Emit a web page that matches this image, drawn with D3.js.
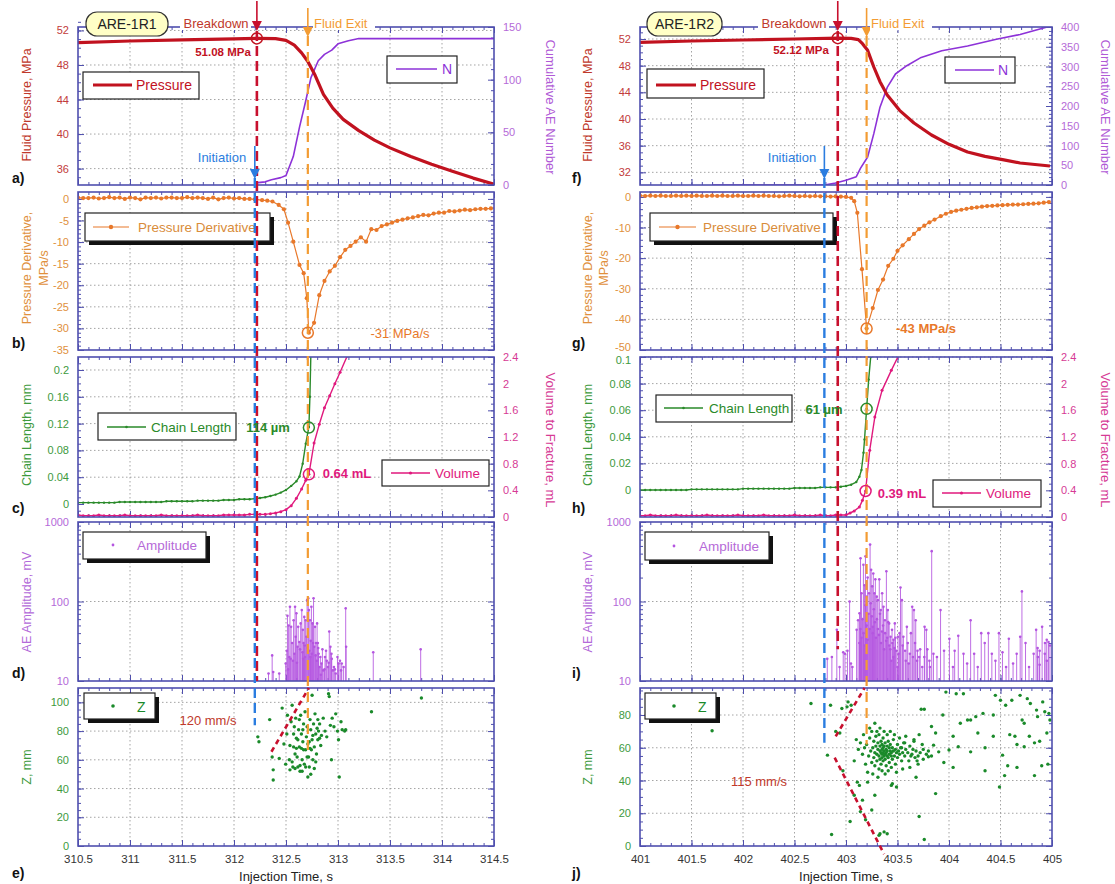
<!DOCTYPE html>
<html lang="en">
<head>
<meta charset="UTF-8">
<title>ARE-1R1 / ARE-1R2 breakdown records</title>
<script src="https://d3js.org/d3.v7.min.js"></script>
<style>
  body { margin: 0; background: #fff; }
</style>
</head>
<body>
<script>
// ---------------- data ----------------
const xTicksR1 = [310.5, 311, 311.5, 312, 312.5, 313, 313.5, 314, 314.5];
const xTicksR2 = [401, 401.5, 402, 402.5, 403, 403.5, 404, 404.5, 405];

// event times, s
const tInitR1 = 312.2, tBreakR1 = 312.22, tExitR1 = 312.71;
const tInitR2 = 402.79, tBreakR2 = 402.92, tExitR2 = 403.2;

// fluid pressure, MPa
const pressR1 = [[310.5,50.6],[311,50.78],[311.5,50.92],[312,51.03],[312.22,51.08],[312.4,51.05],[312.5,50.85],
  [312.58,50.3],[312.65,49.4],[312.71,48.4],[312.78,46.8],[312.86,44.6],[312.95,43.0],[313.05,41.7],[313.2,40.4],
  [313.35,39.3],[313.5,38.4],[313.7,37.4],[313.9,36.5],[314.1,35.7],[314.3,34.9],[314.5,34.2]];
const pressR2 = [[401,51.5],[401.5,51.7],[402,51.85],[402.5,52.0],[402.92,52.12],[403.05,52.1],[403.12,51.9],
  [403.16,51.3],[403.21,50.3],[403.27,47.8],[403.33,45.6],[403.4,43.6],[403.52,41.3],[403.66,39.4],[403.83,37.6],
  [404.0,36.2],[404.18,35.05],[404.35,34.4],[404.52,33.9],[404.69,33.4],[404.98,32.95]];

// cumulative AE number
const nR1 = [[312.2,0],[312.21,2],[312.3,3],[312.36,5],[312.45,7],[312.5,9],[312.57,27],[312.63,55],[312.69,80],
  [312.74,102],[312.81,118],[312.87,124],[312.94,128],[313.0,134],[313.1,137],[313.2,139],[314.5,139]];
const nR2 = [[401.7,0],[402.79,0],[402.9,5],[403.0,12],[403.1,21],[403.14,42],[403.21,71],[403.27,130],[403.33,197],
  [403.4,247],[403.48,281],[403.59,302],[403.73,323],[403.93,340],[404.18,352],[404.46,369],[404.69,381],[404.98,402]];

// pressure derivative, MPa/s (flat part sampled every 0.05 s)
const derivBaseR1 = [0.3,0.2,0.2,0.3,0.1,0.2,0.4,0.2,0.3,0.0,0.3,0.2,-0.1,0.3,0.2,0.3,0.1,0.3,0.3,0.2,
  0.2,0.4,0.2,0.3,0.2,0.0,0.3,-0.1,0.2,0.3,0.1,0.2,0.0,0.0,-0.1];
const derivTailR1 = [[312.27,-0.3],[312.32,-0.4],[312.37,-0.6],[312.43,-1.4],[312.48,-2.4],[312.52,-5.5],[312.57,-9.9],
  [312.63,-15.3],[312.67,-17.2],[312.70,-23],[312.72,-31],[312.77,-28.7],[312.82,-22.3],[312.87,-19.0],[312.92,-16.8],
  [312.97,-15.5],[313.02,-13.5],[313.07,-11.8],[313.12,-10.9],[313.17,-9.9],[313.22,-8.9],[313.27,-9.9],[313.32,-7.0],
  [313.37,-7.2],[313.42,-6.3],[313.47,-5.9],[313.52,-5.5],[313.57,-5.1],[313.62,-4.8],[313.67,-4.5],[313.72,-4.3],
  [313.77,-4.0],[313.82,-3.7],[313.87,-3.8],[313.92,-3.4],[313.97,-3.2],[314.02,-3.2],[314.07,-2.8],[314.12,-2.9],
  [314.17,-2.7],[314.22,-2.5],[314.27,-2.6],[314.32,-2.4],[314.37,-2.3],[314.42,-2.3],[314.47,-2.2]];
const derivBaseR2 = [0.4,0.3,0.4,0.3,0.4,0.3,0.3,0.4,0.3,0.4,0.3,0.4,0.3,0.3,0.4,0.3,0.4,0.3,0.3,0.4,
  0.3,0.3,0.4,0.3,0.4,0.3,0.3,0.2,0.3,0.4,0.3,0.2,0.3,0.2,0.3,0.2,0.2,0.1,0.2,0.1,0.0];
const derivTailR2 = [[403.05,-0.3],[403.08,-1.4],[403.11,-5.2],[403.155,-23.6],[403.2,-43],[403.26,-36.3],[403.31,-30.4],
  [403.36,-27],[403.41,-22.5],[403.46,-20.2],[403.5,-17.6],[403.55,-15.8],[403.61,-13.8],[403.66,-12.1],[403.71,-10.5],
  [403.76,-9.4],[403.81,-8.3],[403.86,-7.4],[403.92,-6.3],[403.97,-5.5],[404.02,-4.9],[404.07,-4.5],[404.12,-4.2],
  [404.17,-3.9],[404.22,-3.6],[404.27,-3.4],[404.32,-3.2],[404.37,-3.0],[404.42,-2.9],[404.47,-2.8],[404.52,-2.7],
  [404.57,-2.6],[404.62,-2.5],[404.67,-2.5],[404.72,-2.4],[404.77,-2.3],[404.82,-2.2],[404.87,-2.1],[404.92,-1.9],[404.97,-1.7]];

// chain length, mm
const chainBaseR1 = [0.002,0.002,0.002,0.002,0.002,0.002,0.002,0.002,0.003,0.003,0.003,0.003,0.003,0.003,0.003,0.003,
  0.003,0.004,0.004,0.004,0.004,0.004,0.004,0.005,0.005,0.005,0.005,0.005,0.006,0.006,0.006,0.007,0.007,0.007,0.008];
const chainTailR1 = [[312.25,0.009],[312.3,0.010],[312.35,0.012],[312.4,0.014],[312.45,0.017],[312.5,0.021],[312.55,0.027],
  [312.6,0.034],[312.63,0.041],[312.66,0.06],[312.69,0.09],[312.72,0.115],[312.73,0.16],[312.74,0.23]];
const chainBaseR2 = [0,0,0,0,0,0,0,0,0,0,0.0005,0.0005,0.0005,0.0005,0.0005,0.0005,0.0005,0.0005,0.0005,0.0005,
  0.001,0.001,0.001,0.001,0.001,0.001,0.001,0.001,0.001,0.001,0.0015,0.0015,0.0015,0.0015,0.0015,0.002,0.002,0.002,0.002,0.0025,0.003];
const chainTailR2 = [[403.05,0.004],[403.1,0.006],[403.13,0.01],[403.15,0.015],[403.17,0.028],[403.18,0.038],[403.2,0.061],
  [403.22,0.083],[403.24,0.1],[403.25,0.11]];

// volume to fracture, mL
const volBaseR1 = [0.03,0.02,0.02,0.02,0.03,0.02,0.02,0.02,0.02,0.03,0.02,0.02,0.02,0.02,0.02,0.02,0.03,0.02,0.02,0.02,
  0.02,0.02,0.02,0.03,0.02,0.02,0.02,0.02,0.03,0.03,0.03,0.03,0.03,0.04,0.04];
const volTailR1 = [[312.25,0.04],[312.3,0.04],[312.35,0.05],[312.4,0.06],[312.45,0.08],[312.5,0.11],[312.55,0.17],[312.6,0.28],
  [312.65,0.42],[312.69,0.55],[312.72,0.64],[312.77,1.11],[312.82,1.39],[312.87,1.64],[312.92,1.82],[312.97,2.0],[313.02,2.17],[313.09,2.42]];
const volBaseR2 = [0.02,0.02,0.03,0.02,0.02,0.02,0.02,0.03,0.02,0.02,0.02,0.02,0.02,0.03,0.02,0.02,0.02,0.02,0.02,0.03,
  0.02,0.02,0.02,0.02,0.03,0.02,0.02,0.02,0.02,0.02,0.03,0.02,0.02,0.02,0.02,0.03,0.02,0.02,0.03,0.03,0.03];
const volTailR2 = [[403.04,0.06],[403.08,0.09],[403.13,0.15],[403.16,0.25],[403.19,0.39],[403.23,1.0],[403.28,1.5],
  [403.35,1.9],[403.44,2.2],[403.51,2.42]];

// AE amplitude, mV
const ampR1 = [[312.332,12.4],[312.367,21],[312.377,13],[312.435,12.4],[312.497,16.6],[312.508,24],[312.514,66],[312.52,14],
  [312.525,50],[312.532,20],[312.538,86],[312.545,19],[312.549,48],[312.559,30],[312.566,18],[312.573,58],[312.58,22],
  [312.587,86],[312.593,36],[312.600,71],[312.605,17],[312.611,27],[312.617,48],[312.628,31],[312.635,25],[312.641,53],
  [312.652,78],[312.659,23],[312.662,44],[312.665,19],[312.669,30],[312.676,64],[312.68,28],[312.683,20],[312.689,58],
  [312.696,36],[312.703,104],[312.71,26],[312.714,110],[312.720,78],[312.724,24],[312.731,58],[312.735,20],[312.738,32],
  [312.744,86],[312.748,22],[312.755,53],[312.76,30],[312.765,110],[312.772,27],[312.779,48],[312.785,21],[312.789,30],
  [312.796,18],[312.799,53],[312.806,30],[312.81,26],[312.813,22],[312.823,15],[312.83,20],[312.835,12],[312.841,16.6],
  [312.85,25],[312.858,13.6],[312.87,14],[312.875,20],[312.885,24],[312.892,18],[312.903,15],[312.91,17],[312.916,42],
  [312.927,27],[312.937,22],[312.94,19],[312.951,13.6],[312.961,15],[312.97,14],[312.978,12.4],[312.995,20],[313.005,16.6],
  [313.019,18],[313.029,13.6],[313.036,16.6],[313.054,15],[313.074,82],[313.078,27],[313.339,23],[313.795,25]];
const ampR2 = [[402.818,19],[402.863,20],[402.911,44],[402.938,15],[402.973,23],[402.990,22],[403.014,24],[403.035,100],
  [403.048,16.6],[403.062,15],[403.103,44],[403.117,58],[403.13,30],[403.131,71],[403.14,45],[403.141,350],[403.15,35],
  [403.151,127],[403.16,60],[403.169,290],[403.17,40],[403.179,160],[403.18,28],[403.189,370],[403.19,90],[403.200,115],
  [403.20,50],[403.210,200],[403.21,33],[403.22,70],[403.224,127],[403.23,45],[403.234,520],[403.24,95],[403.244,250],
  [403.25,65],[403.254,155],[403.26,40],[403.26,48],[403.265,225],[403.27,80],[403.275,127],[403.28,55],[403.285,190],
  [403.29,35],[403.299,115],[403.30,60],[403.309,104],[403.31,45],[403.32,38],[403.323,190],[403.33,70],[403.337,78],
  [403.34,30],[403.35,42],[403.351,127],[403.36,50],[403.364,86],[403.37,25],[403.378,58],[403.38,40],[403.39,32],
  [403.392,240],[403.40,35],[403.406,78],[403.41,55],[403.419,53],[403.42,28],[403.43,25],[403.433,36],[403.44,18],
  [403.447,44],[403.45,30],[403.46,20],[403.461,33],[403.47,26],[403.474,53],[403.48,35],[403.488,24],[403.50,15],
  [403.505,36],[403.51,22],[403.52,40],[403.529,150],[403.543,104],[403.55,28],[403.557,36],[403.574,24],[403.58,18],
  [403.591,48],[403.60,30],[403.609,16.6],[403.62,22],[403.63,40],[403.643,86],[403.65,20],[403.660,78],[403.67,30],
  [403.677,58],[403.69,18],[403.694,24],[403.711,20],[403.72,25],[403.74,15],[403.76,20],[403.763,48],[403.780,44],
  [403.79,25],[403.81,18],[403.815,15],[403.832,430],[403.849,22],[403.883,20],[403.918,78],[403.952,24],[404.004,34],
  [404.038,15],[404.055,24],[404.090,37],[404.141,22],[404.176,16.6],[404.210,58],[404.244,22],[404.279,15],[404.313,40],
  [404.347,30],[404.382,40],[404.416,22],[404.451,18],[404.485,40],[404.519,23],[404.554,15],[404.581,34],[404.622,16.6],
  [404.657,22],[404.691,36],[404.708,134],[404.743,30],[404.777,15],[404.822,22],[404.846,44],[404.86,26],[404.863,20],
  [404.88,16],[404.880,24],[404.904,48],[404.93,22],[404.932,30],[404.949,33],[404.95,18],[404.966,31],[404.98,28]];

// AE source height Z, mm
const zR1 = [[312.229,76],[312.240,72.6],[312.343,88],[312.367,62],[312.377,53],[312.377,46],[312.435,61],[312.463,96],
  [312.480,71],[312.497,57],[312.508,78],[312.514,91],[312.532,60],[312.538,53],[312.538,70],[312.549,86.5],[312.559,98],
  [312.559,58.6],[312.566,55],[312.573,69],[312.573,78],[312.580,83],[312.587,54],[312.587,64],[312.593,89],[312.600,75],
  [312.600,68],[312.607,62],[312.614,55],[312.614,74],[312.621,81],[312.628,69],[312.628,88],[312.635,56],[312.635,52],
  [312.641,91],[312.648,78],[312.648,68],[312.655,60],[312.655,52],[312.662,72.6],[312.662,81],[312.669,85],[312.669,67],
  [312.676,57],[312.683,93.5],[312.689,67],[312.689,55],[312.696,76],[312.703,83],[312.703,62],[312.710,48],[312.710,71],
  [312.717,62],[312.724,72.6],[312.724,55],[312.731,88],[312.731,68],[312.738,81],[312.738,50],[312.744,67],[312.751,105],
  [312.751,74],[312.758,77],[312.758,60],[312.765,85],[312.772,69],[312.772,54],[312.779,92],[312.786,78],[312.786,58.6],
  [312.793,64],[312.799,82],[312.806,74],[312.806,88],[312.813,80],[312.823,85],[312.823,75],[312.834,70],[312.841,77],
  [312.858,89],[312.875,80],[312.892,76],[312.909,106],[312.916,104],[312.927,84],[312.937,60],[312.944,89],[312.961,83],
  [312.978,92],[312.995,80],[313.005,74],[313.012,48],[313.029,86.5],[313.040,81],[313.064,80],[313.074,81],[313.322,93.5],[313.802,103]];
const zR2 = [[401.70,70.4],[402.66,87],[402.85,86],[402.82,55.5],[402.86,7],[402.90,70],[402.94,69],[402.96,84],[402.97,46],
  [403.01,85],[403.02,88],[403.04,15],[403.05,86],[403.08,31],[403.11,39],[403.13,37],[403.14,21],[403.16,28],[403.17,68],
  [403.19,16],[403.21,39],[403.25,22],[403.28,31],[403.32,6.5],[403.33,7.5],[403.37,8.6],[403.40,7.5],[403.44,37],[403.45,38],
  [403.49,36],[403.68,42],[403.71,18],[403.76,4],[403.87,32],[403.71,68],[403.73,83.5],[403.76,83.5],[403.83,73],[403.87,69],
  [403.94,80],[403.97,94],[404.00,58.6],[404.04,67],[404.07,93],[404.11,75],[404.14,93],[404.18,77],[404.21,77],[404.26,79],
  [404.33,81],[404.35,60],[404.43,80],[404.45,92],[404.49,36],[404.50,89],[404.55,86],[404.57,49],[404.59,68],[404.61,89],
  [404.64,67],[404.66,62],[404.69,92],[404.71,77],[404.73,75],[404.76,90],[404.78,67],[404.79,87],[404.83,63],[404.85,83],
  [404.86,79],[404.88,64],[404.90,49],[404.91,88],[404.93,82],[404.95,69],[404.97,81],[404.98,77],
  [403.54,60],[403.57,63],[403.63,55],[403.66,65],[403.69,52],[403.75,59],[403.80,54.5],[403.85,61.6],[403.90,57.5],[403.95,51],
  [404.04,48],[404.09,60.6],[404.21,57.5],[404.28,69],[404.35,46],[404.43,67],[404.52,55.5],[404.54,43],[404.66,48],[404.73,60.6],
  [404.83,43],[404.96,50],
  [403.20,62],[403.22,55],[403.23,66],[403.24,58],[403.25,51],[403.25,70],[403.26,60],[403.27,54],[403.27,64],[403.28,57],
  [403.28,49],[403.29,61],[403.29,67],[403.30,56],[403.30,52],[403.31,59],[403.31,63],[403.32,55],[403.32,47],[403.32,68],
  [403.33,58],[403.33,61],[403.33,53],[403.34,57],[403.34,64],[403.34,50],[403.35,56],[403.35,59],[403.35,62],[403.35,54],
  [403.36,57],[403.36,60],[403.36,52],[403.36,66],[403.37,55],[403.37,58],[403.37,61],[403.38,56],[403.38,53],[403.38,63],
  [403.39,57],[403.39,59],[403.39,49],[403.40,55],[403.40,61],[403.40,58],[403.41,54],[403.41,64],[403.42,56],[403.42,60],
  [403.42,51],[403.43,58],[403.43,62],[403.44,55],[403.44,57],[403.45,53],[403.45,60],[403.46,58],[403.46,65],[403.47,55],
  [403.48,59],[403.48,50],[403.49,57],[403.50,62],[403.50,54],[403.51,58],[403.52,56],[403.53,60],[403.54,52],[403.55,57],
  [403.56,63],[403.57,55],[403.58,59],[403.60,57],[403.61,52],[403.62,61],[403.64,56],[403.65,59],[403.67,54],[403.68,58],
  [403.70,55],[403.72,57],[403.75,53],[403.78,56],[403.80,58],[403.83,55],
  [403.18,60],[403.19,50],[403.21,45],[403.23,72],[403.26,44],[403.28,75],[403.30,70],[403.31,42],[403.33,72],[403.35,46],
  [403.37,70],[403.38,44],[403.40,68],[403.41,46],[403.43,70],[403.44,48],[403.47,68],[403.49,45],[403.52,66],[403.55,47],
  [403.58,67],[403.62,48],[403.66,64],[403.70,50],[403.74,62],[403.14,63],[403.16,56],[403.12,59],[403.10,65],[403.08,52]];

// propagation fronts drawn on the Z panels ([t, z] end points)
const frontR1 = [[312.36,65.6],[312.72,110]];
const frontR2up = [[402.9,67],[403.18,97]];
const frontR2down = [[402.89,54],[403.37,-5]];

// where the vertical event lines stop (values on the lower panels' scales)
const redEndAmpR1 = 10, redEndAmpR2 = 25;
const blueEndZR1 = 84, blueEndZR2 = 63;
const exitEndZR1 = 63, exitEndZR2 = 62;

// ---------------- layout ----------------
const FONT = '"Liberation Sans", Arial, Helvetica, sans-serif';
const FRAME = "#4f4fae";
const C_PRESS = "#c1121f", C_N = "#8d32d8", C_DER = "#e8782a", C_CHAIN = "#2a8a2a",
      C_VOL = "#e0197d", C_AMP = "#b455e0", C_Z = "#1a8a2a";
const C_RED = "#c8102e", C_BLUE = "#2b7de0", C_ORANGE = "#f39c33";

const svg = d3.select("body").append("svg").attr("width", 1115).attr("height", 884)
  .style("font-family", FONT).style("background", "#fff");
const defs = svg.append("defs");

const rows = { a: [27, 185], b: [192, 350], c: [357, 517], d: [522, 681], e: [688, 846] };
const cols = [
  { x0: 78, x1: 494, dom: [310.5, 314.5], ticks: xTicksR1 },
  { x0: 640, x1: 1052, dom: [401, 405], ticks: xTicksR2 }
];
cols.forEach(c => c.x = d3.scaleLinear().domain(c.dom).range([c.x0, c.x1]));

function axis(g, ax, tx, ty, color, size) {
  const a = g.append("g").attr("transform", `translate(${tx},${ty})`).call(ax);
  a.select(".domain").remove();
  a.selectAll(".tick line").attr("stroke", FRAME).attr("stroke-width", 1);
  a.selectAll(".tick text").attr("fill", color || "#333")
    .style("font-size", size || "11px").style("font-family", FONT);
  return a;
}

let clipN = 0;
function panel(c, row, yDom, o) {
  const top = row[0], bot = row[1];
  const y = (o.log ? d3.scaleLog() : d3.scaleLinear()).domain(yDom).range([bot, top]);
  const x = c.x;
  const g = svg.append("g");
  const id = "clip" + (clipN++);
  defs.append("clipPath").attr("id", id).append("rect")
    .attr("x", c.x0).attr("y", top).attr("width", c.x1 - c.x0).attr("height", bot - top);

  // dotted grid
  g.selectAll(null).data(c.ticks.slice(1, -1)).join("line")
    .attr("x1", d => x(d)).attr("x2", d => x(d)).attr("y1", top).attr("y2", bot)
    .attr("stroke", "#9a9a9a").attr("stroke-width", 0.9).attr("stroke-dasharray", "1.5,2.5");
  g.selectAll(null).data(o.grid).join("line")
    .attr("x1", c.x0).attr("x2", c.x1).attr("y1", d => y(d)).attr("y2", d => y(d))
    .attr("stroke", "#9a9a9a").attr("stroke-width", 0.9).attr("stroke-dasharray", "1.5,2.5");

  // x ticks (inward), labels only on the bottom row
  const xm = x.ticks(40);
  axis(g, d3.axisBottom(x).tickValues(xm).tickSize(-3).tickFormat(""), 0, bot);
  axis(g, d3.axisTop(x).tickValues(xm).tickSize(-3).tickFormat(""), 0, top);
  axis(g, d3.axisBottom(x).tickValues(c.ticks).tickSize(-6).tickPadding(9)
    .tickFormat(o.xLabels ? d => d : ""), 0, bot, "#333", "11.5px");
  axis(g, d3.axisTop(x).tickValues(c.ticks).tickSize(-6).tickFormat(""), 0, top);

  // left axis
  axis(g, d3.axisLeft(y).tickValues(o.minor).tickSize(-3).tickFormat(""), c.x0, 0);
  const left = axis(g, d3.axisLeft(y).tickValues(o.major).tickSize(-6).tickPadding(9).tickFormat(d => d), c.x0, 0, o.color);

  // right axis
  let y2 = null;
  if (o.right) {
    y2 = d3.scaleLinear().domain(o.right.dom).range([bot, top]);
    axis(g, d3.axisRight(y2).tickValues(o.right.minor).tickSize(-3).tickFormat(""), c.x1, 0);
    axis(g, d3.axisRight(y2).tickValues(o.right.major).tickSize(-6).tickPadding(9).tickFormat(d => d), c.x1, 0, o.right.color);
  } else {
    axis(g, d3.axisRight(y).tickValues(o.minor).tickSize(-3).tickFormat(""), c.x1, 0);
    axis(g, d3.axisRight(y).tickValues(o.major).tickSize(-6).tickFormat(""), c.x1, 0);
  }
  const plot = g.append("g").attr("clip-path", `url(#${id})`);
  g.append("rect").attr("x", c.x0).attr("y", top).attr("width", c.x1 - c.x0).attr("height", bot - top)
    .attr("fill", "none").attr("stroke", FRAME).attr("stroke-width", 1.6);
  return { g, left, plot, x, y, y2, top, bot, c };
}

function series(base, start, tail) {
  return base.map((v, i) => [start + i * 0.05, v]).concat(tail);
}
function drawLine(p, data, color, width, ys) {
  const yy = ys || p.y;
  p.plot.append("path").datum(data).attr("fill", "none").attr("stroke", color)
    .attr("stroke-width", width).attr("stroke-linejoin", "round")
    .attr("d", d3.line().x(d => p.x(d[0])).y(d => yy(d[1])));
}
function drawDots(p, data, color, r, ys) {
  const yy = ys || p.y;
  p.plot.append("g").selectAll("circle").data(data).join("circle")
    .attr("cx", d => p.x(d[0])).attr("cy", d => yy(d[1])).attr("r", r).attr("fill", color);
}
function ring(p, t, v, color, ys) {
  const yy = ys || p.y;
  svg.append("circle").attr("cx", p.x(t)).attr("cy", yy(v)).attr("r", 5.5)
    .attr("fill", "none").attr("stroke", color).attr("stroke-width", 1.5);
}
function txt(x, y, s, o) {
  const t = svg.append("text").attr("x", x).attr("y", y).text(s)
    .attr("fill", o.color || "#222").style("font-size", o.size || "13px")
    .attr("text-anchor", o.anchor || "start");
  if (o.bold) t.style("font-weight", "bold");
  if (o.rot) t.attr("transform", `rotate(${o.rot},${x},${y})`);
  return t;
}
function legendBox(x, y, w, h, shadow) {
  if (shadow) svg.append("rect").attr("x", x + 4).attr("y", y + 4).attr("width", w).attr("height", h).attr("fill", "#111");
  svg.append("rect").attr("x", x).attr("y", y).attr("width", w).attr("height", h)
    .attr("fill", "#fff").attr("stroke", "#222").attr("stroke-width", 1.2);
}

// ---------------- panels ----------------
const setups = [
  { press: pressR1, pDom: [34.1, 52.4], n: nR1, nDom: [0, 150], nMajor: [0, 50, 100, 150], nMinor: d3.range(0, 151, 10),
    deriv: series(derivBaseR1, 310.5, derivTailR1), dDom: [-35, 1.6], dMajor: [-35, -30, -25, -20, -15, -10, -5, 0], dMinor: d3.range(-35, 1, 1),
    chain: series(chainBaseR1, 310.5, chainTailR1), cDom: [-0.0194, 0.2194], cMajor: [0, 0.04, 0.08, 0.12, 0.16, 0.2], cMinor: d3.range(-0.01, 0.215, 0.01),
    vol: series(volBaseR1, 310.5, volTailR1), amp: ampR1, z: zR1, zDom: [0, 110], zMajor: [0, 20, 40, 60, 80, 100]
  },
  { press: pressR2, pDom: [30.1, 53.8], n: nR2, nDom: [0, 400], nMajor: d3.range(0, 401, 50), nMinor: d3.range(0, 401, 10),
    deriv: series(derivBaseR2, 401, derivTailR2), dDom: [-50, 1.6], dMajor: [-50, -40, -30, -20, -10, 0], dMinor: d3.range(-50, 1, 2),
    chain: series(chainBaseR2, 401, chainTailR2), cDom: [-0.0203, 0.1], cMajor: [0, 0.02, 0.04, 0.06, 0.08, 0.1], cMinor: d3.range(-0.015, 0.1, 0.005),
    vol: series(volBaseR2, 401, volTailR2), amp: ampR2, z: zR2, zDom: [0, 96.5], zMajor: [0, 20, 40, 60, 80]
  }
];

const P = setups.map((s, k) => {
  const c = cols[k];
  const pMajor = k === 0 ? [36, 40, 44, 48, 52] : [32, 36, 40, 44, 48, 52];
  const a = panel(c, rows.a, s.pDom, { major: pMajor, minor: d3.range(k === 0 ? 35 : 31, 53.5, 1), color: "#c23b3b", grid: pMajor,
    right: { dom: s.nDom, major: s.nMajor, minor: s.nMinor, color: "#b56ad8" } });
  drawLine(a, s.n, C_N, 1.6, a.y2);
  drawLine(a, s.press, C_PRESS, 3.2);

  const b = panel(c, rows.b, s.dDom, { major: s.dMajor, minor: s.dMinor, color: "#e0903c", grid: s.dMajor.slice(1, -1) });
  drawLine(b, s.deriv, C_DER, 1.2);
  drawDots(b, s.deriv, C_DER, 2.1);

  const cp = panel(c, rows.c, s.cDom, { major: s.cMajor, minor: s.cMinor, color: "#3d9a3d", grid: s.cMajor.slice(1),
    right: { dom: [0, 2.4], major: [0, 0.4, 0.8, 1.2, 1.6, 2, 2.4], minor: d3.range(0, 2.41, 0.1), color: "#d63a95" } });
  drawLine(cp, s.vol, C_VOL, 1.4, cp.y2);
  drawDots(cp, s.vol, C_VOL, 1.5, cp.y2);
  drawLine(cp, s.chain, C_CHAIN, 1.4);
  drawDots(cp, s.chain, C_CHAIN, 1.2);

  const ampMinor = [20, 30, 40, 50, 60, 70, 80, 90, 200, 300, 400, 500, 600, 700, 800, 900];
  const d = panel(c, rows.d, [10, 1000], { log: true, major: [10, 100, 1000], minor: ampMinor, color: "#b36ad9", grid: [100] });
  d.plot.append("g").selectAll("line").data(s.amp).join("line")
    .attr("x1", v => d.x(v[0])).attr("x2", v => d.x(v[0])).attr("y1", d.y(10)).attr("y2", v => d.y(v[1]))
    .attr("stroke", C_AMP).attr("stroke-width", 1).attr("opacity", 0.85);
  drawDots(d, s.amp, C_AMP, 1.3);

  const e = panel(c, rows.e, s.zDom, { major: s.zMajor, minor: d3.range(0, s.zDom[1], 5), color: "#3d9a3d",
    grid: s.zMajor.slice(1), xLabels: true });
  drawDots(e, s.z, C_Z, 1.7);
  return { a, b, cp, d, e };
});

// the "-50" and "0.1" labels sit on the same gap: pull them apart a little
P[1].b.left.selectAll(".tick text").filter(v => v === -50).attr("dy", "0.0em");
P[1].cp.left.selectAll(".tick text").filter(v => v === 0.1).attr("dy", "0.62em");

// ---------------- axis titles ----------------
[[0, 31, 546, 31, 48], [1, 592, 1101, 592, 608]].forEach(([k, xl, xr, xd1, xd2]) => {
  txt(xl, 105, "Fluid Pressure, MPa", { color: "#c0392b", size: "12.5px", anchor: "middle", rot: -90 });
  txt(xr, 107, "Cumulative AE Number", { color: "#b05ad6", size: "13px", anchor: "middle", rot: 90 });
  txt(xd1, 268, "Pressure Derivative,", { color: "#e0903c", size: "12.5px", anchor: "middle", rot: -90 });
  txt(xd2, 268, "MPa/s", { color: "#e0903c", size: "12.5px", anchor: "middle", rot: -90 });
  txt(xl, 435, "Chain Length, mm", { color: "#3d9a3d", size: "12.5px", anchor: "middle", rot: -90 });
  txt(xr, 440, "Volume to Fracture, mL", { color: "#d63a95", size: "13px", anchor: "middle", rot: 90 });
  txt(xl, 602, "AE Amplitude, mV", { color: "#b36ad9", size: "12.5px", anchor: "middle", rot: -90 });
  txt(xl, 767, "Z, mm", { color: "#3d9a3d", size: "12.5px", anchor: "middle", rot: -90 });
  const mid = (cols[k].x0 + cols[k].x1) / 2;
  txt(mid, 881, "Injection Time, s", { color: "#222", size: "13px", anchor: "middle" });
});

// panel letters
[["a)", 183], ["b)", 348], ["c)", 513], ["d)", 678], ["e)", 878]].forEach(([s, y]) => txt(12, y, s, { bold: true, size: "14px", color: "#111" }));
[["f)", 183], ["g)", 348], ["h)", 513], ["i)", 678], ["j)", 878]].forEach(([s, y]) => txt(572, y, s, { bold: true, size: "14px", color: "#111" }));

// ---------------- legends ----------------
function lineKey(x1, x2, y, color, w, dot) {
  svg.append("line").attr("x1", x1).attr("x2", x2).attr("y1", y).attr("y2", y).attr("stroke", color).attr("stroke-width", w);
  if (dot) svg.append("circle").attr("cx", (x1 + x2) / 2).attr("cy", y).attr("r", dot).attr("fill", color);
}
// left column
legendBox(83, 72, 116, 27, false); lineKey(93, 132, 85, C_PRESS, 3); txt(136, 90, "Pressure", { color: C_PRESS, size: "14px" });
legendBox(387, 56, 70, 27, false); lineKey(396, 437, 69, C_N, 1.6); txt(442, 74, "N", { color: C_N, size: "14px" });
legendBox(85, 213, 185, 28, true); lineKey(93, 129, 227, C_DER, 1.2, 2.2); txt(138, 232, "Pressure Derivative", { color: "#d98c3a", size: "13.5px" });
legendBox(98, 413, 138, 27, false); lineKey(107, 146, 427, C_CHAIN, 1.4, 1.3); txt(151, 432, "Chain Length", { color: C_CHAIN, size: "13.5px" });
legendBox(382, 460, 107, 26, false); lineKey(391, 430, 473, C_VOL, 1.4, 1.6); txt(435, 478, "Volume", { color: C_VOL, size: "13.5px" });
legendBox(83, 532, 123, 27, true); svg.append("circle").attr("cx", 113).attr("cy", 545).attr("r", 1.4).attr("fill", C_AMP);
txt(137, 550, "Amplitude", { color: "#b66ad8", size: "13.5px" });
legendBox(84, 693, 71, 26, true); svg.append("circle").attr("cx", 113).attr("cy", 706).attr("r", 1.8).attr("fill", C_Z);
txt(137, 712, "Z", { color: C_Z, size: "14px" });
// right column
legendBox(647, 69, 117, 29, false); lineKey(656, 696, 85, C_PRESS, 3); txt(700, 90, "Pressure", { color: C_PRESS, size: "14px" });
legendBox(945, 57, 70, 26, false); lineKey(955, 994, 70, C_N, 1.6); txt(998, 75, "N", { color: C_N, size: "14px" });
legendBox(650, 213, 183, 28, true); lineKey(659, 696, 227, C_DER, 1.2, 2.2); txt(703, 232, "Pressure Derivative", { color: "#d98c3a", size: "13.5px" });
legendBox(656, 395, 136, 27, false); lineKey(664, 703, 408, C_CHAIN, 1.4, 1.3); txt(709, 413, "Chain Length", { color: C_CHAIN, size: "13.5px" });
legendBox(933, 480, 108, 27, false); lineKey(942, 981, 493, C_VOL, 1.4, 1.6); txt(986, 498, "Volume", { color: C_VOL, size: "13.5px" });
legendBox(645, 532, 124, 28, true); svg.append("circle").attr("cx", 674).attr("cy", 546).attr("r", 1.4).attr("fill", C_AMP);
txt(699, 551, "Amplitude", { color: "#b66ad8", size: "13.5px" });
legendBox(645, 693, 71, 26, true); svg.append("circle").attr("cx", 674).attr("cy", 706).attr("r", 1.8).attr("fill", C_Z);
txt(698, 712, "Z", { color: C_Z, size: "14px" });

// ---------------- propagation fronts ----------------
function front(p, pts) {
  svg.append("path").datum(pts).attr("fill", "none").attr("stroke", C_RED).attr("stroke-width", 2.6)
    .attr("stroke-dasharray", "5,4").attr("d", d3.line().x(d => p.x(d[0])).y(d => p.y(d[1])));
}
const e1 = P[0].e, e2 = P[1].e;
const e1clip = { x: e1.x, y: d3.scaleLinear().domain(e1.y.domain()).range(e1.y.range()).clamp(true) };
front(e1clip, frontR1);
const e2top = { x: e2.x, y: d3.scaleLinear().domain(e2.y.domain()).range(e2.y.range()).clamp(true) };
front(e2top, frontR2up);
front(e2, frontR2down);
txt(208, 725, "120 mm/s", { color: "#c0392b", size: "13px", anchor: "middle" });
txt(759, 786, "115 mm/s", { color: "#c0392b", size: "13px", anchor: "middle" });

// ---------------- event lines ----------------
function vline(x, y1, y2, color, w, dash) {
  svg.append("line").attr("x1", x).attr("x2", x).attr("y1", y1).attr("y2", y2)
    .attr("stroke", color).attr("stroke-width", w).attr("stroke-dasharray", dash || null);
}
function arrow(x, y1, y2, color) {
  vline(x, y1, y2 - 8, color, 1.6);
  svg.append("path").attr("d", `M${x - 5},${y2 - 10}L${x + 5},${y2 - 10}L${x},${y2}Z`).attr("fill", color);
}
[[0, tInitR1, tBreakR1, tExitR1, redEndAmpR1, blueEndZR1, exitEndZR1],
 [1, tInitR2, tBreakR2, tExitR2, redEndAmpR2, blueEndZR2, exitEndZR2]].forEach(([k, ti, tb, te, rEnd, bEnd, oEnd]) => {
  const p = P[k], x = cols[k].x;
  vline(x(tb), 31, p.d.y(rEnd), C_RED, 2.6, "10,5");
  vline(x(ti), 178, p.e.y(bEnd), C_BLUE, 2.4, "10,5");
  vline(x(te), 36, p.e.y(oEnd), C_ORANGE, 2.2, "10,6");
  arrow(x(tb), 1, 31, C_RED);
  arrow(x(te), 8, 37, C_ORANGE);
  arrow(x(ti), 146, 179, C_BLUE);
});

// ---------------- annotations ----------------
function labelBg(x, y, w, h) { svg.append("rect").attr("x", x).attr("y", y).attr("width", w).attr("height", h).attr("fill", "#fff"); }
labelBg(180, 14, 71, 16); txt(216, 28, "Breakdown", { color: "#c0392b", size: "13px", anchor: "middle" });
labelBg(313, 14, 62, 16); txt(314, 28, "Fluid Exit", { color: C_ORANGE, size: "13px" });
txt(222, 162, "Initiation", { color: C_BLUE, size: "13px", anchor: "middle" });
labelBg(758, 14, 71, 16); txt(794, 28, "Breakdown", { color: "#c0392b", size: "13px", anchor: "middle" });
labelBg(870, 14, 62, 16); txt(871, 28, "Fluid Exit", { color: C_ORANGE, size: "13px" });
txt(792, 162, "Initiation", { color: C_BLUE, size: "13px", anchor: "middle" });

ring(P[0].a, tBreakR1, 51.08, C_PRESS);
txt(223, 56, "51.08 MPa", { color: C_PRESS, size: "11.5px", bold: true, anchor: "middle" });
ring(P[1].a, tBreakR2, 52.12, C_PRESS);
txt(801, 54, "52.12 MPa", { color: C_PRESS, size: "11.5px", bold: true, anchor: "middle" });

ring(P[0].b, tExitR1, -31, C_DER);
txt(400, 338, "-31 MPa/s", { color: C_DER, size: "13px", anchor: "middle" });
ring(P[1].b, tExitR2, -43, C_DER);
txt(926, 333, "-43 MPa/s", { color: C_DER, size: "13px", bold: true, anchor: "middle" });

ring(P[0].cp, 312.72, 0.114, C_CHAIN);
txt(268, 432, "114 µm", { color: C_CHAIN, size: "13px", bold: true, anchor: "middle" });
ring(P[0].cp, 312.72, 0.64, C_VOL, P[0].cp.y2);
txt(347, 478, "0.64 mL", { color: C_VOL, size: "13px", bold: true, anchor: "middle" });
ring(P[1].cp, tExitR2, 0.061, C_CHAIN);
txt(824, 414, "61 µm", { color: C_CHAIN, size: "13px", bold: true, anchor: "middle" });
ring(P[1].cp, 403.19, 0.39, C_VOL, P[1].cp.y2);
txt(902, 498, "0.39 mL", { color: C_VOL, size: "13px", bold: true, anchor: "middle" });

// specimen tags
[[86, 82, "ARE-1R1"], [647, 75, "ARE-1R2"]].forEach(([x, w, s]) => {
  svg.append("rect").attr("x", x).attr("y", 12).attr("width", w).attr("height", 24).attr("rx", 11)
    .attr("fill", "#ffffc6").attr("stroke", "#333").attr("stroke-width", 1.2);
  txt(x + w / 2, 29, s, { color: "#222", size: "14px", anchor: "middle" });
});
</script>
</body>
</html>
